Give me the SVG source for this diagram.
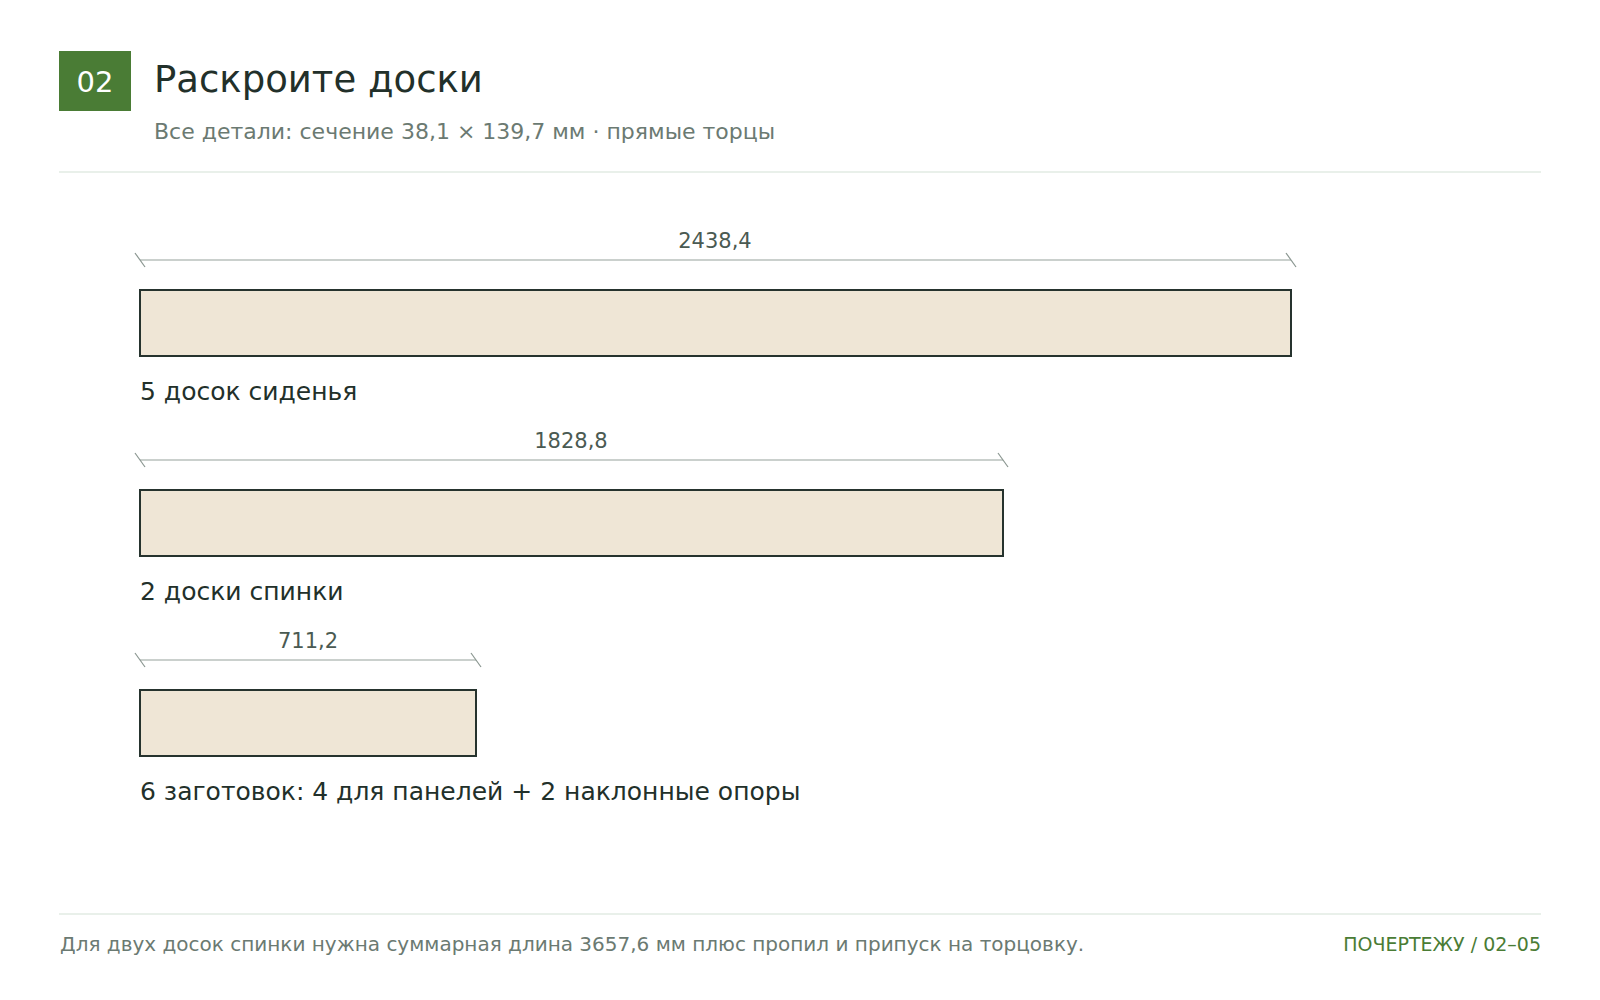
<svg xmlns="http://www.w3.org/2000/svg" width="1600" height="1000" viewBox="0 0 1600 1000">
<style>
text{font-family:"DejaVu Sans","Noto Sans",sans-serif}
.title{font-size:37px;fill:#22302a}
.sub{font-size:22px;fill:#6b7a72}
.dim{stroke:#b9c0bc;stroke-width:1.5;fill:none}
.tick{stroke:#8a9690;stroke-width:1.2}
.dimtxt{font-size:21px;fill:#4a5a52;text-anchor:middle}
.board{fill:#efe6d6;stroke:#26332e;stroke-width:2}
.lbl{font-size:25px;fill:#22302a}
.rule{stroke:#e9f0ea;stroke-width:2}
.foot{font-size:20px;fill:#6b7a72}
.ref{font-size:19px;fill:#4a7c35;text-anchor:end}
</style>
<rect width="1600" height="1000" fill="#ffffff"/>
<g id="header">
<rect x="59" y="51" width="72" height="60" fill="#4a7c35"/>
<text x="95" y="92" font-size="29" fill="#ffffff" text-anchor="middle">02</text>
<text class="title" x="154" y="92">Раскроите доски</text>
<text class="sub" x="154" y="139">Все детали: сечение 38,1 × 139,7 мм · прямые торцы</text>
<line class="rule" x1="59" y1="172" x2="1541" y2="172"/>
</g>
<g id="connectors">
<line class="dim" x1="140" y1="260" x2="1291" y2="260"/>
<line class="tick" x1="135" y1="253" x2="145" y2="267"/>
<line class="tick" x1="1286" y1="253" x2="1296" y2="267"/>
<line class="dim" x1="140" y1="460" x2="1003" y2="460"/>
<line class="tick" x1="135" y1="453" x2="145" y2="467"/>
<line class="tick" x1="998" y1="453" x2="1008" y2="467"/>
<line class="dim" x1="140" y1="660" x2="476" y2="660"/>
<line class="tick" x1="135" y1="653" x2="145" y2="667"/>
<line class="tick" x1="471" y1="653" x2="481" y2="667"/>
</g>
<g id="board-seat">
<text class="dimtxt" x="715" y="248">2438,4</text>
<rect class="board" x="140" y="290" width="1151" height="66"/>
<text class="lbl" x="140" y="400">5 досок сиденья</text>
</g>
<g id="board-back">
<text class="dimtxt" x="571" y="448">1828,8</text>
<rect class="board" x="140" y="490" width="863" height="66"/>
<text class="lbl" x="140" y="600">2 доски спинки</text>
</g>
<g id="board-blank">
<text class="dimtxt" x="308" y="648">711,2</text>
<rect class="board" x="140" y="690" width="336" height="66"/>
<text class="lbl" x="140" y="800">6 заготовок: 4 для панелей + 2 наклонные опоры</text>
</g>
<g id="footer">
<line class="rule" x1="59" y1="914" x2="1541" y2="914"/>
<text class="foot" x="60" y="951">Для двух досок спинки нужна суммарная длина 3657,6 мм плюс пропил и припуск на торцовку.</text>
<text class="ref" x="1541" y="951">ПОЧЕРТЕЖУ / 02–05</text>
</g>
</svg>
